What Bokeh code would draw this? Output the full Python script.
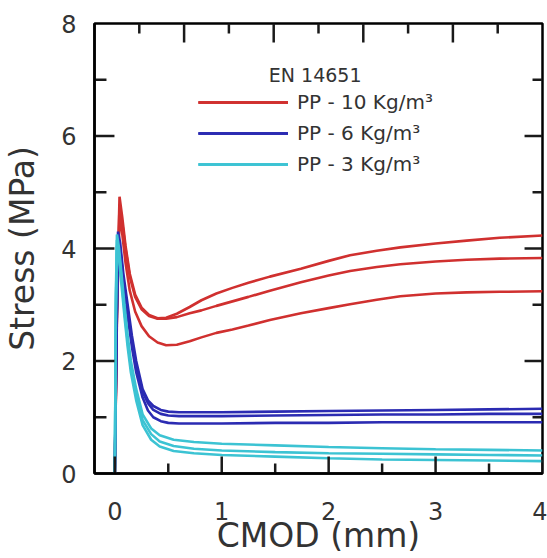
from bokeh.plotting import figure
from bokeh.models import Range1d, FixedTicker, Legend, LegendItem, Label
from bokeh.embed import file_html
from bokeh.resources import INLINE

# Residual flexural strength curves (EN 14651) for three fibre dosages
cmod_r = [0, 0.02, 0.044, 0.07, 0.10, 0.14, 0.19, 0.25, 0.32, 0.40, 0.48, 0.58,
          0.70, 0.81, 0.95, 1.10, 1.25, 1.45, 1.74, 2.0, 2.2, 2.45, 2.67, 3.0,
          3.29, 3.6, 4.0]
stress_r1 = [0, 3.0, 4.92, 4.55, 4.05, 3.55, 3.18, 2.95, 2.82, 2.76, 2.77, 2.84,
             2.96, 3.08, 3.20, 3.30, 3.39, 3.50, 3.64, 3.78, 3.88, 3.96, 4.02,
             4.09, 4.14, 4.19, 4.23]
stress_r2 = [0, 2.9, 4.78, 4.45, 4.0, 3.5, 3.14, 2.92, 2.80, 2.75, 2.75, 2.78,
             2.85, 2.90, 2.98, 3.06, 3.14, 3.25, 3.40, 3.52, 3.60, 3.67, 3.72,
             3.77, 3.80, 3.82, 3.83]
stress_r3 = [0, 2.8, 4.6, 4.25, 3.75, 3.25, 2.88, 2.62, 2.44, 2.33, 2.28, 2.29,
             2.35, 2.42, 2.50, 2.56, 2.63, 2.73, 2.85, 2.94, 3.01, 3.09, 3.15,
             3.20, 3.22, 3.23, 3.24]

cmod_b = [0, 0.015, 0.03, 0.05, 0.08, 0.12, 0.16, 0.20, 0.26, 0.31, 0.36, 0.43,
          0.50, 0.60, 0.75, 1.0, 1.5, 2.0, 2.5, 3.0, 3.5, 4.0]
stress_b1 = [0, 2.5, 4.3, 4.1, 3.55, 3.0, 2.45, 2.0, 1.5, 1.3, 1.2, 1.13, 1.10,
             1.09, 1.09, 1.09, 1.10, 1.11, 1.12, 1.13, 1.14, 1.15]
stress_b2 = [0, 2.4, 4.2, 4.0, 3.45, 2.9, 2.35, 1.92, 1.45, 1.25, 1.13, 1.06,
             1.03, 1.02, 1.02, 1.02, 1.03, 1.04, 1.05, 1.05, 1.06, 1.06]
stress_b3 = [0, 2.3, 4.1, 3.9, 3.35, 2.8, 2.25, 1.8, 1.35, 1.12, 1.0, 0.93, 0.90,
             0.89, 0.89, 0.89, 0.90, 0.90, 0.91, 0.91, 0.91, 0.91]

cmod_c = [0, 0.005, 0.01, 0.02, 0.04, 0.06, 0.09, 0.12, 0.15, 0.20, 0.26, 0.34,
          0.42, 0.55, 0.74, 1.0, 1.5, 2.0, 2.5, 3.0, 3.5, 4.0]
stress_c1 = [0, 1.5, 3.2, 4.25, 4.0, 3.6, 3.0, 2.45, 2.0, 1.5, 1.05, 0.8, 0.68,
             0.6, 0.56, 0.53, 0.50, 0.47, 0.45, 0.43, 0.42, 0.41]
stress_c2 = [0, 1.4, 3.0, 4.15, 3.9, 3.5, 2.9, 2.35, 1.9, 1.4, 0.95, 0.7, 0.57,
             0.49, 0.44, 0.41, 0.38, 0.36, 0.35, 0.34, 0.33, 0.32]
stress_c3 = [0, 1.3, 2.9, 4.05, 3.8, 3.4, 2.8, 2.25, 1.8, 1.3, 0.86, 0.6, 0.48,
             0.40, 0.36, 0.33, 0.30, 0.27, 0.25, 0.24, 0.23, 0.22]

labels = ["PP - 10 Kg/m\u00b3", "PP - 6 Kg/m\u00b3", "PP - 3 Kg/m\u00b3"]
legend_title = "EN 14651"

# tick positions; the top edge is divided into 5 equal steps of its own
x_major = [0, 1, 2, 3, 4]
x_minor = [0.5, 1.5, 2.5, 3.5]
y_major = [0, 2, 4, 6, 8]
y_minor = [1, 3, 5, 7]
top_steps = 5

X0, X1, Y0, Y1 = -0.19, 4.0, 0, 8

W, H = 547, 558
BL, BR, BT, BB = 93, 5, 23, 85
FRAME_W, FRAME_H = W - BL - BR, H - BT - BB

RED, BLUE, CYAN = "#d0302f", "#2b2bb2", "#3cc3d3"
TICK = "#1a1a1a"
FONT = "DejaVu Sans"
TXT = "#333333"

p = figure(width=W, height=H, x_range=Range1d(X0, X1),
           y_range=Range1d(Y0, Y1), output_backend="svg",
           toolbar_location=None, min_border_left=BL, min_border_right=BR,
           min_border_top=BT, min_border_bottom=BB)
p.xgrid.visible = False
p.ygrid.visible = False
p.outline_line_color = "black"
p.outline_line_width = 2.5

groups = [
    (RED, cmod_r, [stress_r1, stress_r2, stress_r3]),
    (BLUE, cmod_b, [stress_b1, stress_b2, stress_b3]),
    (CYAN, cmod_c, [stress_c1, stress_c2, stress_c3]),
]
items = []
for (color, xs, ys_list), lab in zip(groups, labels):
    rs = [p.line(xs, ys, line_color=color, line_width=2.6) for ys in ys_list]
    items.append(LegendItem(label=lab, renderers=rs))

legend = Legend(items=items, location=(104, 297), glyph_width=90,
                glyph_height=20, label_height=20, spacing=7, padding=0,
                margin=0, label_standoff=9, border_line_alpha=0,
                background_fill_alpha=0, label_text_font=FONT,
                label_text_font_size="20px", label_text_color=TXT)
p.add_layout(legend)

p.add_layout(Label(x=1.44, y=7.09, text=legend_title, text_font=FONT,
                   text_font_size="19px", text_color=TXT,
                   text_baseline="alphabetic"))

# inward frame ticks as short segments; lengths given in pixels
dx = (X1 - X0) / FRAME_W
dy = (Y1 - Y0) / FRAME_H
top_step = (X1 - X0) / top_steps
top_major = [X0 + k * top_step for k in range(1, top_steps)]
top_minor = [X0 + (k + 0.5) * top_step for k in range(top_steps)]

sx0, sy0, sx1, sy1 = [], [], [], []


def vticks(xs, y_edge, length, direction):
    for x in xs:
        sx0.append(x)
        sx1.append(x)
        sy0.append(y_edge)
        sy1.append(y_edge + direction * length * dy)


def hticks(ys, x_edge, length, direction):
    for y in ys:
        sy0.append(y)
        sy1.append(y)
        sx0.append(x_edge)
        sx1.append(x_edge + direction * length * dx)


vticks(x_major, Y0, 17, 1)
vticks(x_minor, Y0, 10, 1)
vticks(top_major, Y1, 19, -1)
vticks(top_minor, Y1, 10, -1)
hticks(y_major[1:-1], X0, 20, 1)
hticks(y_minor, X0, 12, 1)
hticks(y_major[1:-1], X1, 18, -1)
hticks(y_minor, X1, 10, -1)
p.segment(x0=sx0, y0=sy0, x1=sx1, y1=sy1, line_color=TICK, line_width=2.5)


def style_axis(ax):
    ax.axis_line_color = "black"
    ax.axis_line_width = 2.5
    ax.major_tick_line_color = None
    ax.minor_tick_line_color = None
    ax.major_label_text_font = FONT
    ax.major_label_text_font_size = "24px"
    ax.major_label_text_color = TXT
    ax.axis_label_text_font = FONT
    ax.axis_label_text_font_size = "33px"
    ax.axis_label_text_font_style = "normal"
    ax.axis_label_text_color = TXT


xa = p.xaxis[0]
xa.ticker = FixedTicker(ticks=x_major, minor_ticks=x_minor)
style_axis(xa)
xa.axis_label = "CMOD (mm)"
xa.major_label_standoff = 22
xa.axis_label_standoff = -7

ya = p.yaxis[0]
ya.ticker = FixedTicker(ticks=y_major, minor_ticks=y_minor)
style_axis(ya)
ya.axis_label = "Stress (MPa)"
ya.major_label_standoff = 12
ya.axis_label_standoff = 16

open("out.html", "w").write(file_html(p, INLINE))
